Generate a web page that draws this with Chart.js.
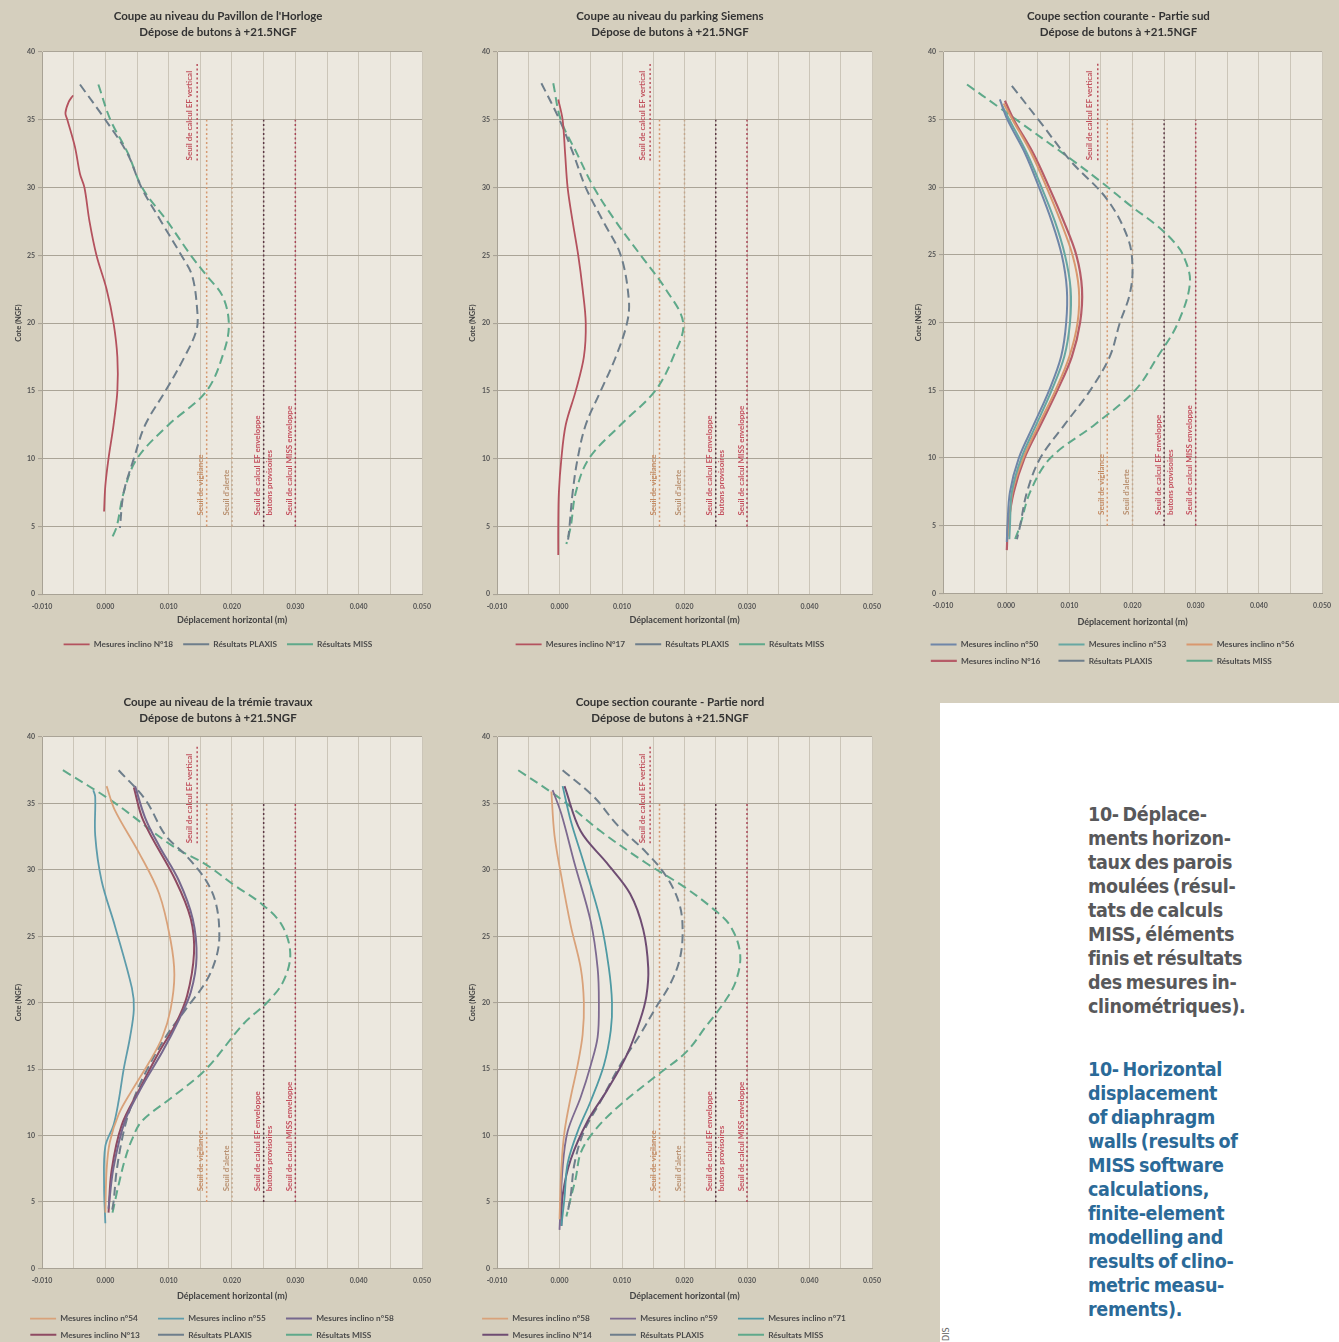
<!DOCTYPE html>
<html lang="fr">
<head>
<meta charset="utf-8">
<title>Déplacements horizontaux des parois moulées</title>
<script src="https://cdn.jsdelivr.net/npm/chart.js"></script>
<style>
  html, body { margin: 0; padding: 0; }
  body { width: 1339px; height: 1342px; background: #d5cfbe; position: relative; overflow: hidden; }
  canvas.panel { position: absolute; }
  #note { position: absolute; left: 940px; top: 703px; width: 399px; height: 639px; background: #ffffff; }
  #note .txt { position: absolute; left: 148px; margin: 0; font-family: "DejaVu Sans Condensed", "Liberation Sans", sans-serif; font-weight: bold; font-size: 19.5px; line-height: 24px; letter-spacing: -0.3px; word-spacing: -2px; }
  #fr { top: 100px; color: #58585a; }
  #en { top: 355px; color: #2b6a98; }
  #credit { position: absolute; left: 942px; top: 1341px; font: 8px "DejaVu Sans", sans-serif; color: #666; transform: rotate(-90deg); transform-origin: left top; }
</style>
</head>
<body>
<canvas id="pavillon" class="panel" width="450" height="660" style="left:0;top:0"></canvas>
<canvas id="siemens" class="panel" width="440" height="660" style="left:460px;top:0"></canvas>
<canvas id="sud" class="panel" width="439" height="680" style="left:900px;top:0"></canvas>
<canvas id="tremie" class="panel" width="450" height="672" style="left:0;top:680px"></canvas>
<canvas id="nord" class="panel" width="440" height="672" style="left:460px;top:680px"></canvas>

<div id="note">
  <p class="txt" id="fr">10- Déplace-<br>ments horizon-<br>taux des parois<br>moulées (résul-<br>tats de calculs<br>MISS, éléments<br>finis et résultats<br>des mesures in-<br>clinométriques).</p>
  <p class="txt" id="en">10- Horizontal<br>displacement<br>of diaphragm<br>walls (results of<br>MISS software<br>calculations,<br>finite-element<br>modelling and<br>results of clino-<br>metric measu-<br>rements).</p>
</div>
<div id="credit">DIS</div>

<script>
// ---- Axes ----
const X_MIN = -0.010, X_MAX = 0.050, X_STEP = 0.005;
const Y_MIN = 0, Y_MAX = 40, Y_STEP = 5;
const X_TICK_LABELS = ['-0.010', '0.000', '0.010', '0.020', '0.030', '0.040', '0.050'];
const X_TITLE = 'Déplacement horizontal (m)';
const Y_TITLE = 'Cote (NGF)';
const SUBTITLE = 'Dépose de butons à +21.5NGF';

// ---- Seuils (déplacement en m, cotes en NGF) ----
const SEUIL_EF_VERTICAL = 0.0145;
const SEUIL_VIGILANCE = 0.016;
const SEUIL_ALERTE = 0.020;
const SEUIL_EF = 0.025;
const SEUIL_MISS = 0.030;
const SEUIL_COTES = [5, 35];
const SEUIL_EF_VERTICAL_COTES = [32, 39.3];

// ---- Coupe au niveau du Pavillon de l'Horloge ----
const pav_n18_cote = [36.8, 36.3, 35.5, 35, 33, 31, 30, 27.5, 25, 22.5, 20, 17.5, 15, 12.5, 10, 8, 6.1];
const pav_n18_depl = [-0.0051, -0.0058, -0.0063, -0.0060, -0.0048, -0.0040, -0.0033, -0.0025, -0.0014, 0.0002, 0.0013, 0.0019, 0.0019, 0.0013, 0.0005, 0.0000, -0.0002];
const pav_plaxis_cote = [37.6, 35, 32.5, 30, 27.5, 25, 23.5, 21, 19.5, 17.5, 15, 12.5, 10, 7.5, 4.9];
const pav_plaxis_depl = [-0.0040, 0.0000, 0.0035, 0.0057, 0.0088, 0.0120, 0.0137, 0.0145, 0.0144, 0.0125, 0.0095, 0.0063, 0.0045, 0.0029, 0.0023];
const pav_miss_cote = [37.6, 35, 32.5, 30, 27.5, 25, 23.5, 22, 20, 18, 15, 12.5, 10, 7.5, 5, 4.1];
const pav_miss_depl = [-0.0011, 0.0008, 0.0036, 0.0058, 0.0098, 0.0135, 0.0160, 0.0185, 0.0195, 0.0188, 0.0160, 0.0100, 0.0050, 0.0029, 0.0018, 0.0010];

// ---- Coupe au niveau du parking Siemens ----
const sie_n17_cote = [36.5, 35, 32.5, 30, 27.5, 25, 22.5, 20, 17.5, 15, 12.5, 10, 7.5, 5, 2.9];
const sie_n17_depl = [-0.0002, 0.0005, 0.0009, 0.0013, 0.0021, 0.0030, 0.0037, 0.0042, 0.0039, 0.0026, 0.0010, 0.0003, -0.0001, -0.0002, -0.0002];
const sie_plaxis_cote = [37.7, 35, 32.5, 30, 27.5, 25, 21.7, 20, 17.5, 15, 12.5, 10, 7.5, 5, 3.7];
const sie_plaxis_depl = [-0.0029, 0.0000, 0.0022, 0.0042, 0.0070, 0.0098, 0.0111, 0.0108, 0.0090, 0.0066, 0.0042, 0.0029, 0.0021, 0.0016, 0.0013];
const sie_miss_cote = [37.7, 35, 32.5, 30, 27.5, 25, 22.5, 20, 17.5, 15, 12.5, 10, 7.5, 5, 3.7];
const sie_miss_depl = [-0.0010, 0.0002, 0.0028, 0.0055, 0.0090, 0.0130, 0.0170, 0.0198, 0.0182, 0.0153, 0.0098, 0.0047, 0.0026, 0.0018, 0.0011];

// ---- Coupe section courante - Partie sud ----
const sud_n50_cote = [36.5, 35, 32.5, 30, 27.5, 25, 22.5, 20, 17.5, 15, 12.5, 10, 7.5, 5, 3.8];
const sud_n50_depl = [-0.0010, 0.0002, 0.0030, 0.0052, 0.0072, 0.0088, 0.0096, 0.0095, 0.0087, 0.0068, 0.0044, 0.0020, 0.0006, 0.0002, 0.0001];
const sud_n53_cote = [36.0, 35, 32.5, 30, 27.5, 25, 22.5, 20, 17.5, 15, 12.5, 10, 7.5, 5, 4.0];
const sud_n53_depl = [-0.0006, 0.0005, 0.0033, 0.0056, 0.0077, 0.0093, 0.0102, 0.0101, 0.0092, 0.0072, 0.0048, 0.0024, 0.0009, 0.0006, 0.0005];
const sud_n56_cote = [36.2, 35, 32.5, 30, 27.5, 25, 22.5, 20, 17.5, 15, 12.5, 10, 7.5, 5, 4.2];
const sud_n56_depl = [-0.0004, 0.0010, 0.0040, 0.0064, 0.0086, 0.0105, 0.0115, 0.0113, 0.0100, 0.0078, 0.0052, 0.0027, 0.0010, 0.0005, 0.0004];
const sud_n16_cote = [36.4, 35, 32.5, 30, 27.5, 25, 22.5, 20, 17.5, 15, 12.5, 10, 7.5, 5, 3.2];
const sud_n16_depl = [-0.0002, 0.0012, 0.0043, 0.0068, 0.0091, 0.0111, 0.0120, 0.0117, 0.0104, 0.0081, 0.0055, 0.0029, 0.0012, 0.0003, 0.0001];
const sud_plaxis_cote = [37.5, 35, 32, 29.1, 26.2, 24, 22, 20, 17.5, 15, 12.5, 10, 7.5, 5, 4];
const sud_plaxis_depl = [0.0009, 0.0051, 0.0101, 0.0160, 0.0193, 0.0200, 0.0195, 0.0180, 0.0164, 0.0133, 0.0093, 0.0054, 0.0033, 0.0022, 0.0017];
const sud_miss_cote = [37.6, 36, 35, 32, 30.3, 28.6, 27.2, 26, 25, 23, 20, 17.5, 15, 12.5, 10, 7.5, 5, 4];
const sud_miss_depl = [-0.0062, -0.0014, 0.0016, 0.0105, 0.0153, 0.0198, 0.0238, 0.0265, 0.0280, 0.0291, 0.0272, 0.0240, 0.0204, 0.0141, 0.0070, 0.0038, 0.0022, 0.0014];

// ---- Coupe au niveau de la trémie travaux ----
const tre_n54_cote = [36.3, 34.5, 31.3, 28.2, 24.7, 22.1, 19.5, 17.4, 15.5, 13.4, 11.6, 9.5, 7.4, 4.2];
const tre_n54_depl = [0.0002, 0.0015, 0.0053, 0.0085, 0.0103, 0.0109, 0.0103, 0.0090, 0.0069, 0.0042, 0.0021, 0.0007, 0.0002, 0.0000];
const tre_n55_cote = [36.0, 35.5, 32.6, 29.2, 25.8, 21.1, 19.5, 17.4, 15, 12.6, 10.8, 9.2, 6.3, 3.4];
const tre_n55_depl = [-0.0019, -0.0016, -0.0016, -0.0006, 0.0015, 0.0042, 0.0045, 0.0039, 0.0029, 0.0021, 0.0013, 0.0000, -0.0002, 0.0000];
const tre_n58_cote = [36.3, 33.9, 31.8, 29.2, 26.3, 23.4, 20.8, 18.7, 16.3, 13.7, 11.1, 7.6, 4.5];
const tre_n58_depl = [0.0047, 0.0063, 0.0085, 0.0116, 0.0138, 0.0144, 0.0135, 0.0116, 0.0090, 0.0058, 0.0031, 0.0013, 0.0005];
const tre_n13_cote = [36.2, 33.7, 29.2, 26.3, 23.7, 20.5, 18.4, 16.3, 13.4, 10.8, 7.4, 4.2];
const tre_n13_depl = [0.0045, 0.0060, 0.0111, 0.0135, 0.0140, 0.0129, 0.0111, 0.0085, 0.0053, 0.0026, 0.0010, 0.0005];
const tre_plaxis_cote = [37.5, 35.3, 32.6, 31.1, 29.2, 27.4, 25, 23.4, 21.6, 19.5, 17.4, 14.7, 12.4, 10.3, 7.4, 5, 4.2];
const tre_plaxis_depl = [0.0021, 0.0063, 0.0095, 0.0127, 0.0159, 0.0175, 0.0180, 0.0175, 0.0159, 0.0127, 0.0095, 0.0063, 0.0042, 0.0029, 0.0018, 0.0013, 0.0010];
const tre_miss_cote = [37.5, 35.1, 31.8, 30.4, 28.9, 27.5, 25.9, 23.7, 21.6, 20, 18.4, 15, 12.9, 11.1, 9.7, 8.2, 6.3, 5, 3.9];
const tre_miss_depl = [-0.0067, 0.0013, 0.0106, 0.0159, 0.0202, 0.0245, 0.0278, 0.0292, 0.0281, 0.0255, 0.0218, 0.0159, 0.0106, 0.0058, 0.0042, 0.0031, 0.0021, 0.0015, 0.0010];

// ---- Coupe section courante - Partie nord ----
const nor_n58_cote = [35.9, 32.6, 29.5, 25.8, 22.6, 20, 17.6, 15.3, 12.9, 10.3, 7.6, 3.7];
const nor_n58_depl = [-0.0013, -0.0008, 0.0003, 0.0018, 0.0034, 0.0039, 0.0037, 0.0029, 0.0018, 0.0008, 0.0003, 0.0000];
const nor_n59_cote = [36, 34.2, 30.5, 26.1, 22.6, 20, 17.4, 15.3, 12.9, 10.3, 7.6, 2.9];
const nor_n59_depl = [-0.0011, 0.0003, 0.0024, 0.0050, 0.0061, 0.0063, 0.0061, 0.0050, 0.0034, 0.0013, 0.0005, 0.0000];
const nor_n71_cote = [36.3, 33.7, 30.5, 26.1, 22.6, 20, 17.9, 15.3, 12.6, 10.3, 7.9, 5.3, 3.2];
const nor_n71_depl = [0.0005, 0.0018, 0.0039, 0.0066, 0.0079, 0.0084, 0.0082, 0.0071, 0.0050, 0.0029, 0.0013, 0.0008, 0.0003];
const nor_n14_cote = [36.3, 32.9, 30.5, 28.2, 25.5, 22.6, 20.5, 18.7, 16.1, 13.4, 11.1, 8.2, 5.5, 3.2];
const nor_n14_depl = [0.0008, 0.0034, 0.0076, 0.0113, 0.0134, 0.0142, 0.0139, 0.0129, 0.0108, 0.0076, 0.0045, 0.0018, 0.0005, 0.0003];
const nor_plaxis_cote = [37.5, 35.5, 33.4, 31.3, 29.5, 27.4, 25.3, 23.2, 21.3, 19.7, 17.6, 15.3, 12.6, 10.3, 7.9, 5.5, 4.2];
const nor_plaxis_depl = [0.0005, 0.0055, 0.0092, 0.0139, 0.0171, 0.0192, 0.0197, 0.0192, 0.0176, 0.0155, 0.0129, 0.0097, 0.0066, 0.0039, 0.0024, 0.0018, 0.0013];
const nor_miss_cote = [37.5, 35.3, 32.9, 30.5, 28.7, 27.1, 25.8, 23.7, 21.6, 20, 18.2, 16.3, 14.5, 12.1, 10.3, 8.7, 6.8, 5.3, 3.9];
const nor_miss_depl = [-0.0066, 0.0003, 0.0066, 0.0139, 0.0200, 0.0245, 0.0273, 0.0289, 0.0282, 0.0263, 0.0234, 0.0203, 0.0155, 0.0092, 0.0055, 0.0034, 0.0026, 0.0018, 0.0011];

// ---- Styles ----
const FONT = 'Lato, "Liberation Sans", sans-serif';
const PLOT_BG = '#ece8df';
const C_PLAXIS = '#6e7e8b';
const C_MISS = '#5fa98a';
const LEGEND_SIZE = 8.3;

function points(cote, depl) { return cote.map((c, i) => ({ x: depl[i], y: c })); }

function mesure(label, cote, depl, color, width) {
  return { label, data: points(cote, depl), borderColor: color, backgroundColor: color,
           borderWidth: width || 1.8, pointRadius: 0, showLine: true, tension: 0.35, fill: false };
}
function modele(label, cote, depl, color) {
  return { label, data: points(cote, depl), borderColor: color, backgroundColor: color,
           borderWidth: 2, borderDash: [9, 5], pointRadius: 0, showLine: true, tension: 0.35, fill: false };
}
function seuil(x, cotes, color, textColor, text, textFrom, offsets) {
  return { label: '', isSeuil: true, seuilText: text, textColor, textFrom, textOffsets: offsets,
           data: [{ x, y: cotes[0] }, { x, y: cotes[1] }], borderColor: color, borderWidth: 1.5,
           borderDash: [2, 2.5], pointRadius: 0, showLine: true, fill: false };
}
function seuils() {
  return [
    seuil(SEUIL_EF_VERTICAL, SEUIL_EF_VERTICAL_COTES, '#b8505c', '#c0505c', ['Seuil de calcul EF vertical'], SEUIL_EF_VERTICAL_COTES[0], [-8]),
    seuil(SEUIL_VIGILANCE, SEUIL_COTES, '#d69a72', '#c48a62', ['Seuil de vigilance'], 5.8, [-6]),
    seuil(SEUIL_ALERTE, SEUIL_COTES, '#c4a78c', '#b89070', ["Seuil d'alerte"], 5.8, [-6]),
    seuil(SEUIL_EF, SEUIL_COTES, '#5c3845', '#c4505e', ['Seuil de calcul EF enveloppe', 'butons provisoires'], 5.8, [-6, 6]),
    seuil(SEUIL_MISS, SEUIL_COTES, '#a84456', '#c4505e', ['Seuil de calcul MISS enveloppe'], 5.8, [-6])
  ];
}

// Plot background and rotated threshold captions
const decorPlugin = {
  id: 'decor',
  beforeDraw(chart) {
    const { ctx, chartArea: a } = chart;
    ctx.save();
    ctx.fillStyle = PLOT_BG;
    ctx.fillRect(a.left, a.top, a.width, a.height);
    ctx.restore();
  },
  afterDatasetsDraw(chart) {
    const { ctx, scales: { x, y } } = chart;
    chart.data.datasets.forEach(ds => {
      if (!ds.seuilText) return;
      const px = x.getPixelForValue(ds.data[0].x);
      const py = y.getPixelForValue(ds.textFrom);
      ctx.save();
      ctx.font = 'bold 8px ' + FONT;
      ctx.fillStyle = ds.textColor;
      ctx.textAlign = 'left';
      ctx.textBaseline = 'middle';
      ds.seuilText.forEach((t, k) => {
        ctx.save();
        ctx.translate(px + ds.textOffsets[k], py);
        ctx.rotate(-Math.PI / 2);
        ctx.fillText(t, 0, 0);
        ctx.restore();
      });
      ctx.restore();
    });
  }
};

function makePanel(id, p) {
  const ctx = document.getElementById(id);
  const legendFont = { family: FONT, size: LEGEND_SIZE, weight: 'bold' };
  new Chart(ctx, {
    type: 'scatter',
    data: { datasets: p.series.concat(seuils()) },
    plugins: [decorPlugin],
    options: {
      responsive: false,
      animation: false,
      devicePixelRatio: 1,
      layout: { padding: { left: p.padLeft, right: p.padRight, top: 0, bottom: p.padBottom } },
      plugins: {
        tooltip: { enabled: false },
        title: {
          display: true, text: [p.title, SUBTITLE], color: '#333333',
          font: { family: FONT, size: 11.5, weight: 'bold', lineHeight: 16 / 11.5 },
          padding: { top: p.titleTop, bottom: p.titleBottom }
        },
        legend: {
          position: 'bottom',
          labels: {
            color: '#4a4a4a', font: legendFont, usePointStyle: true, pointStyle: 'line',
            pointStyleWidth: 26, padding: p.legendPad,
            generateLabels(chart) {
              const items = Chart.defaults.plugins.legend.labels.generateLabels(chart)
                .filter(it => !chart.data.datasets[it.datasetIndex].isSeuil);
              if (p.columnWidth) {
                const c = chart.ctx;
                c.save();
                c.font = 'bold ' + LEGEND_SIZE + 'px ' + FONT;
                items.forEach(it => {
                  while (c.measureText(it.text).width < p.columnWidth) it.text += '\u00a0';
                });
                c.restore();
              }
              return items;
            }
          }
        }
      },
      scales: {
        x: {
          type: 'linear', min: X_MIN, max: X_MAX,
          afterFit(s) { s.height = p.xHeight; },
          ticks: {
            stepSize: X_STEP, color: '#555', padding: 8,
            font: { family: FONT, size: 7, weight: 'bold' },
            maxRotation: 0, autoSkip: false,
            callback(v) {
              let s = Number(v).toFixed(3);
              if (s === '-0.000') s = '0.000';
              return X_TICK_LABELS.includes(s) ? s : '';
            }
          },
          grid: { color: '#cbc5b8', lineWidth: 1, tickLength: 4, drawTicks: false },
          border: { color: '#a8a295' },
          title: { display: true, text: X_TITLE, color: '#444', font: { family: FONT, size: 9, weight: 'bold' }, padding: { top: 0, bottom: 5 } }
        },
        y: {
          type: 'linear', min: Y_MIN, max: Y_MAX,
          afterFit(s) { s.width = p.yWidth; },
          ticks: { stepSize: Y_STEP, color: '#555', padding: 3, font: { family: FONT, size: 7, weight: 'bold' } },
          grid: { color: '#aaa497', lineWidth: 1.1, tickLength: 4 },
          border: { color: '#a8a295' },
          title: { display: true, text: Y_TITLE, color: '#444', font: { family: FONT, size: 7.5, weight: 'bold' }, padding: { top: 0, bottom: 0 } }
        }
      }
    }
  });
}

makePanel('pavillon', {
  title: "Coupe au niveau du Pavillon de l'Horloge",
  series: [
    mesure('Mesures inclino N°18', pav_n18_cote, pav_n18_depl, '#b4525e'),
    modele('Résultats PLAXIS', pav_plaxis_cote, pav_plaxis_depl, C_PLAXIS),
    modele('Résultats MISS', pav_miss_cote, pav_miss_depl, C_MISS)
  ],
  padLeft: 14, yWidth: 28, padRight: 28, titleTop: 8, titleBottom: 12,
  xHeight: 36, legendPad: 10, padBottom: 1.5
});

makePanel('siemens', {
  title: 'Coupe au niveau du parking Siemens',
  series: [
    mesure('Mesures inclino N°17', sie_n17_cote, sie_n17_depl, '#b4525e'),
    modele('Résultats PLAXIS', sie_plaxis_cote, sie_plaxis_depl, C_PLAXIS),
    modele('Résultats MISS', sie_miss_cote, sie_miss_depl, C_MISS)
  ],
  padLeft: 8, yWidth: 29, padRight: 28, titleTop: 8, titleBottom: 12,
  xHeight: 36, legendPad: 10, padBottom: 1.5
});

makePanel('sud', {
  title: 'Coupe section courante - Partie sud',
  series: [
    mesure('Mesures inclino n°50', sud_n50_cote, sud_n50_depl, '#6f86a8', 2),
    mesure('Mesures inclino n°53', sud_n53_cote, sud_n53_depl, '#67a7a2', 2),
    mesure('Mesures inclino n°56', sud_n56_cote, sud_n56_depl, '#d9986e', 2),
    mesure('Mesures inclino N°16', sud_n16_cote, sud_n16_depl, '#b65c68', 2.2),
    modele('Résultats PLAXIS', sud_plaxis_cote, sud_plaxis_depl, C_PLAXIS),
    modele('Résultats MISS', sud_miss_cote, sud_miss_depl, C_MISS)
  ],
  padLeft: 14, yWidth: 29, padRight: 16, titleTop: 8, titleBottom: 12,
  xHeight: 39, legendPad: 8, padBottom: 5, columnWidth: 88
});

makePanel('tremie', {
  title: 'Coupe au niveau de la trémie travaux',
  series: [
    mesure('Mesures inclino n°54', tre_n54_cote, tre_n54_depl, '#d9a27a'),
    mesure('Mesures inclino n°55', tre_n55_cote, tre_n55_depl, '#5e9cab'),
    mesure('Mesures inclino n°58', tre_n58_cote, tre_n58_depl, '#76688e', 2),
    mesure('Mesures inclino N°13', tre_n13_cote, tre_n13_depl, '#8e4a62', 2),
    modele('Résultats PLAXIS', tre_plaxis_cote, tre_plaxis_depl, C_PLAXIS),
    modele('Résultats MISS', tre_miss_cote, tre_miss_depl, C_MISS)
  ],
  padLeft: 14, yWidth: 28, padRight: 28, titleTop: 14, titleBottom: 11,
  xHeight: 38, legendPad: 8, padBottom: 3, columnWidth: 88
});

makePanel('nord', {
  title: 'Coupe section courante - Partie nord',
  series: [
    mesure('Mesures inclino n°58', nor_n58_cote, nor_n58_depl, '#d9a27a'),
    mesure('Mesures inclino n°59', nor_n59_cote, nor_n59_depl, '#7d6a90'),
    mesure('Mesures inclino n°71', nor_n71_cote, nor_n71_depl, '#4f9aa3'),
    mesure('Mesures inclino N°14', nor_n14_cote, nor_n14_depl, '#6e4c72', 2),
    modele('Résultats PLAXIS', nor_plaxis_cote, nor_plaxis_depl, C_PLAXIS),
    modele('Résultats MISS', nor_miss_cote, nor_miss_depl, C_MISS)
  ],
  padLeft: 8, yWidth: 29, padRight: 28, titleTop: 14, titleBottom: 11,
  xHeight: 38, legendPad: 8, padBottom: 3, columnWidth: 88
});
</script>
</body>
</html>
